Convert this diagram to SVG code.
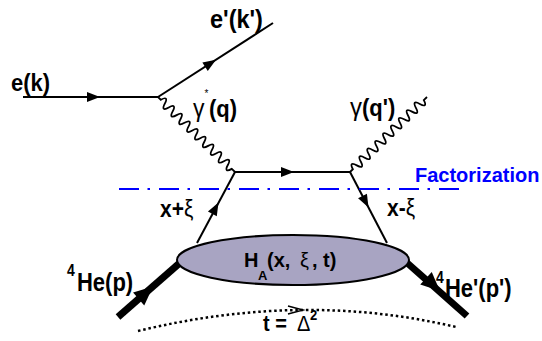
<svg xmlns="http://www.w3.org/2000/svg" xmlns:xlink="http://www.w3.org/1999/xlink" width="542" height="341" viewBox="0 0 542 341">
<style>
.ln{stroke:#000;stroke-width:2;fill:none}
.thick{stroke:#000;stroke-width:7;fill:none}
.wave{stroke:#000;stroke-width:1.8;fill:none}
.lbl{font-family:"Liberation Sans",Arial,sans-serif;font-weight:bold;fill:#000}
.gr{font-weight:normal}
</style>
<defs>
<path id="ah" d="M0,0 L-13,-5 L-13,5 Z" fill="#000"/>
<path id="ahT" d="M0,0 L-19,-8.5 L-19,8.5 Z" fill="#000"/>
<path id="wv" d="M0,0 L4,0 c1.65,-5.8 3.85,-5.8 5.5,0 c1.65,5.8 3.85,5.8 5.5,0 c1.65,-5.8 3.85,-5.8 5.5,0 c1.65,5.8 3.85,5.8 5.5,0 c1.65,-5.8 3.85,-5.8 5.5,0 c1.65,5.8 3.85,5.8 5.5,0 c1.65,-5.8 3.85,-5.8 5.5,0 c1.65,5.8 3.85,5.8 5.5,0 c1.65,-5.8 3.85,-5.8 5.5,0 c1.65,5.8 3.85,5.8 5.5,0 c1.65,-5.8 3.85,-5.8 5.5,0 c1.65,5.8 3.85,5.8 5.5,0 c1.65,-5.8 3.85,-5.8 5.5,0 c1.65,5.8 3.85,5.8 5.5,0 c1.65,-5.8 3.85,-5.8 5.5,0 c1.65,5.8 3.85,5.8 5.5,0 c1.65,-5.8 3.85,-5.8 5.5,0 c1.65,5.8 3.85,5.8 5.5,0 L107.5,0"/>
</defs>
<g id="connectors">
<line class="ln" x1="23" y1="97" x2="158" y2="97"/>
<use xlink:href="#ah" transform="translate(100,97)"/>
<line class="ln" x1="158" y1="97" x2="273" y2="23"/>
<use xlink:href="#ah" transform="translate(216,59.7) rotate(-32.8)"/>
<use xlink:href="#wv" class="wave" transform="translate(158,97) rotate(44.25)"/>
<line class="ln" x1="235" y1="172" x2="350" y2="172"/>
<use xlink:href="#ah" transform="translate(294,172)"/>
<use xlink:href="#wv" class="wave" transform="translate(350,172) rotate(-44.25)"/>
<line class="ln" x1="197" y1="243" x2="235" y2="172"/>
<use xlink:href="#ah" transform="translate(218.5,202.5) rotate(-61.8)"/>
<line class="ln" x1="350" y1="172" x2="387" y2="243"/>
<use xlink:href="#ah" transform="translate(368.5,207.5) rotate(62.5)"/>
<line class="thick" x1="118" y1="317" x2="182" y2="261"/>
<use xlink:href="#ahT" transform="translate(153,286.5) rotate(-41)"/>
<line class="thick" x1="405" y1="261" x2="467" y2="316"/>
<use xlink:href="#ahT" transform="translate(440,291) rotate(42.5)"/>
<line x1="119" y1="189" x2="462" y2="189" stroke="#0000ff" stroke-width="2" stroke-dasharray="20 8.5 2.5 9"/>
<path d="M138,331 Q303,291 456,327" fill="none" stroke="#000" stroke-width="2.5" stroke-dasharray="2.5 2.8"/>
<path d="M288,306 L303,310 L288,314" fill="none" stroke="#000" stroke-width="1.5"/>
</g>
<g id="blob">
<ellipse cx="293" cy="260" rx="116" ry="25" fill="#a8a4c2" stroke="#000" stroke-width="2"/>
<text class="lbl" font-size="20" transform="matrix(1,0,0,1.05,0,-13.35)"><tspan x="244" y="267">H</tspan><tspan x="258" y="279" font-size="13">A</tspan><tspan x="267" y="267">(x,</tspan><tspan x="300" y="267" class="gr">ξ</tspan><tspan x="312" y="267">, t)</tspan></text>
</g>
<g id="labels">
<text class="lbl" x="11" y="91" font-size="22" transform="matrix(1,0,0,1.12,0,-10.92)">e(k)</text>
<text class="lbl" x="210" y="28" font-size="23.5" transform="matrix(1,0,0,1.06,0,-1.68)">e'(k')</text>
<text class="lbl" font-size="22" transform="matrix(1,0,0,1.1,0,-11.7)"><tspan x="193" y="117" class="gr" font-size="23">γ</tspan><tspan x="204.5" y="99" font-size="10" class="gr">*</tspan><tspan x="209" y="117">(q)</tspan></text>
<text class="lbl" font-size="22" transform="matrix(1,0,0,1.1,0,-11.6)"><tspan x="350" y="116" class="gr" font-size="24">γ</tspan><tspan x="362" y="116">(q')</tspan></text>
<text class="lbl" font-size="20" x="415" y="182" style="fill:#0000ff">Factorization</text>
<text class="lbl" font-size="21" transform="matrix(1,0,0,1.1,0,-21.7)"><tspan x="160" y="217">x+</tspan><tspan class="gr">ξ</tspan></text>
<text class="lbl" font-size="21" transform="matrix(1,0,0,1.1,0,-21.6)"><tspan x="387" y="216">x-</tspan><tspan class="gr">ξ</tspan></text>
<text class="lbl" transform="matrix(1,0,0,1.15,0,-43.65)"><tspan x="67" y="278" font-size="14">4</tspan><tspan x="77" y="291" font-size="22">He(p)</tspan></text>
<text class="lbl" transform="matrix(1,0,0,1.15,0,-44.55)"><tspan x="436" y="285" font-size="14">4</tspan><tspan x="445" y="297" font-size="22">He'(p')</tspan></text>
<text class="lbl" font-size="20" transform="matrix(1,0,0,1.1,0,-33.1)"><tspan x="263" y="331">t =</tspan><tspan x="297" y="331" class="gr">Δ</tspan><tspan x="310" y="321" font-size="13">2</tspan></text>
</g>
</svg>
